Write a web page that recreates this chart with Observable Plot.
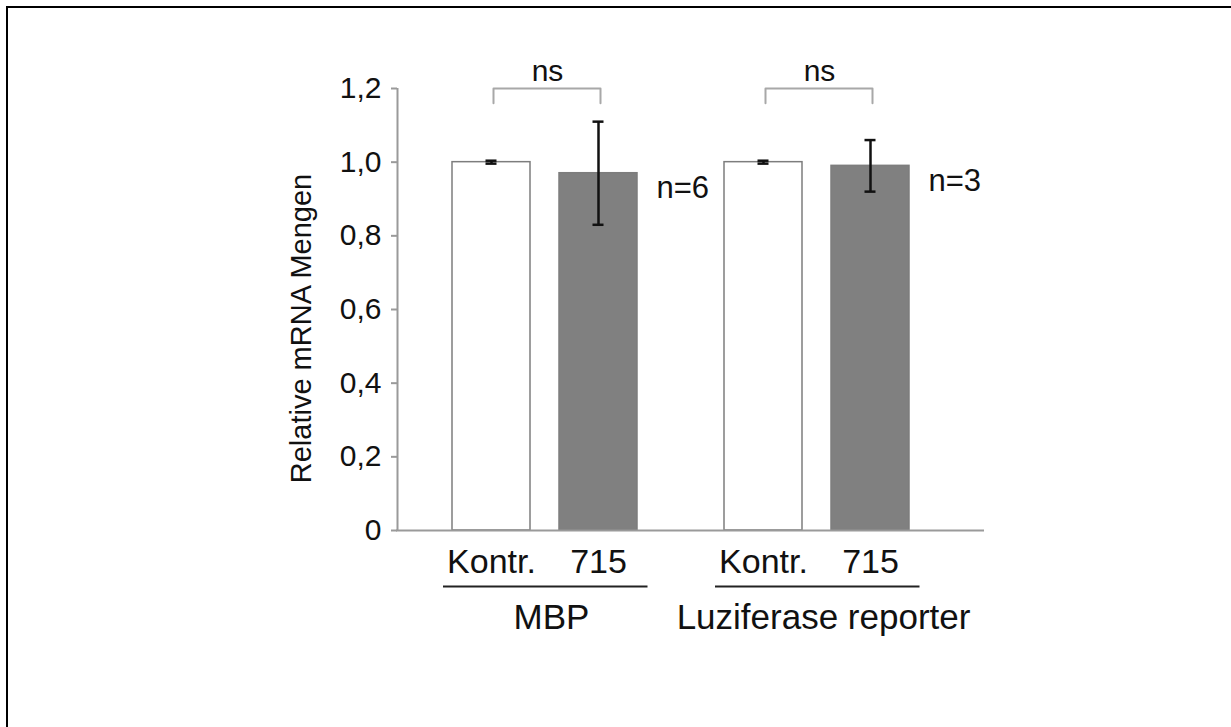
<!DOCTYPE html>
<html><head><meta charset="utf-8">
<script src="https://cdn.jsdelivr.net/npm/d3@7"></script>
<script src="https://cdn.jsdelivr.net/npm/@observablehq/plot@0.6"></script>
<style>
html,body{margin:0;padding:0;background:#fff;overflow:hidden;}
#chart{position:absolute;left:0;top:0;}
#frame{position:absolute;left:6px;top:6px;width:1300px;height:800px;border-top:2px solid #000;border-left:2px solid #000;pointer-events:none;}
</style></head><body>
<div id="chart"></div><div id="frame"></div>
<script>
const groups = ["MBP", "Luziferase reporter"];
const conditions = ["Kontr.", "715"];
const mbpMeans = [1.00, 0.97];
const mbpErrors = [0.004, 0.14];
const lucMeans = [1.00, 0.99];
const lucErrors = [0.004, 0.07];
const sampleSizes = ["n=6", "n=3"];
const significance = ["ns", "ns"];
const yTicks = [0, 0.2, 0.4, 0.6, 0.8, 1.0, 1.2];
const yTickLabels = ["0", "0,2", "0,4", "0,6", "0,8", "1,0", "1,2"];
const yLabel = "Relative mRNA Mengen";

const means = [mbpMeans, lucMeans];
const errors = [mbpErrors, lucErrors];
const rows = groups.flatMap((g, gi) => conditions.map((c, ci) => ({
  group: g, condition: c, mean: means[gi][ci],
  lo: means[gi][ci] - errors[gi][ci], hi: means[gi][ci] + errors[gi][ci]
})));
const groupRows = groups.map((g, gi) => ({group: g, n: sampleSizes[gi], sig: significance[gi], mean715: means[gi][1]}));
const bracketTop = yTicks[yTicks.length - 1];
const bracketLeg = bracketTop - 0.04;
const bracket = groups.flatMap(g => [
  {group: g, condition: conditions[0], y: bracketLeg},
  {group: g, condition: conditions[0], y: bracketTop},
  {group: g, condition: conditions[1], y: bracketTop},
  {group: g, condition: conditions[1], y: bracketLeg}
]);

const font = '"Liberation Sans", Arial, Helvetica, sans-serif';
const ink = "#111";
const axisGrey = "#9a9a9a";

const chart = Plot.plot({
  width: 1231, height: 727,
  marginLeft: 396, marginRight: 290, marginTop: 88, marginBottom: 197,
  style: {fontFamily: font, background: "transparent", overflow: "visible", color: ink},
  fx: {domain: groups, padding: 0, axis: null},
  x: {domain: conditions, paddingInner: 0.2685, paddingOuter: 0.3958, align: 0.6316, axis: null},
  y: {domain: [0, 1.2], axis: null},
  color: {domain: conditions, range: ["#ffffff", "#808080"]},
  marks: [
    Plot.barY(rows, {fx: "group", x: "condition", y: "mean", fill: "condition", stroke: "#7d7d7d", strokeWidth: 1.5}),
    Plot.ruleY([groupRows[0]], {fx: "group", y: () => 0, stroke: axisGrey, strokeWidth: 2, insetLeft: -1}),
    Plot.ruleY([groupRows[1]], {fx: "group", y: () => 0, stroke: axisGrey, strokeWidth: 2, insetRight: -43}),
    Plot.ruleX([groupRows[0]], {fx: "group", x: () => conditions[0], y1: () => 0, y2: () => bracketTop, dx: -94, stroke: axisGrey, strokeWidth: 2}),
    Plot.axisY({ticks: yTicks, tickFormat: d => yTickLabels[yTicks.indexOf(d)], tickSize: 6, tickPadding: 10,
      fontSize: 30, stroke: axisGrey, strokeWidth: 2, fill: ink, label: null}),
    Plot.ruleX(rows, {fx: "group", x: "condition", y1: "lo", y2: "hi", stroke: ink, strokeWidth: 2.5}),
    Plot.tickY(rows, {fx: "group", x: "condition", y: "lo", stroke: ink, strokeWidth: 2.5, insetLeft: 33.5, insetRight: 33.5}),
    Plot.tickY(rows, {fx: "group", x: "condition", y: "hi", stroke: ink, strokeWidth: 2.5, insetLeft: 33.5, insetRight: 33.5}),
    Plot.line(bracket, {fx: "group", x: "condition", y: "y", z: "group", stroke: "#a8a8a8", strokeWidth: 2, dx: 2}),
    Plot.text(groupRows, {fx: "group", x: () => conditions[0], y: () => bracketTop, text: "sig", dx: 56, dy: -8, lineAnchor: "bottom", fontSize: 30, fill: ink}),
    Plot.text(groupRows, {fx: "group", x: () => conditions[1], y: "mean715", text: "n", textAnchor: "start", dx: 58, dy: 25, lineAnchor: "bottom", fontSize: 31, fill: ink}),
    Plot.text(rows, {fx: "group", x: "condition", y: () => 0, text: "condition", dy: 42, lineAnchor: "bottom", fontSize: 34, fill: ink}),
    Plot.ruleY(groupRows, {fx: "group", y: () => 0, dy: 56, insetLeft: 46, insetRight: 21.5, stroke: "#222", strokeWidth: 2}),
    Plot.text(groupRows, {fx: "group", x: () => conditions[0], y: () => 0, text: "group", dx: 60, dy: 98, lineAnchor: "bottom", fontSize: 35, fill: ink}),
    Plot.text([groups[0]], {fx: d => d, frameAnchor: "left", textAnchor: "middle", text: () => yLabel, rotate: -90, dx: -96, dy: 19, fontSize: 29, fill: ink})
  ]
});
document.getElementById("chart").appendChild(chart);
</script>
</body></html>
